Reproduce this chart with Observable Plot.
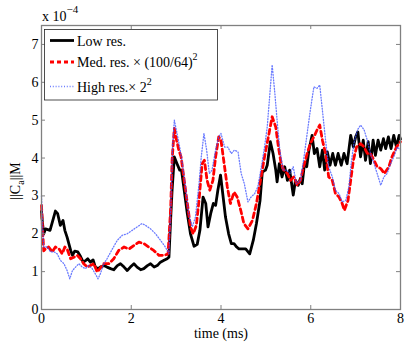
<!DOCTYPE html>
<html><head><meta charset="utf-8">
<script src="https://cdn.jsdelivr.net/npm/d3@7"></script>
<script src="https://cdn.jsdelivr.net/npm/@observablehq/plot@0.6"></script>
<style>
body{margin:0;background:#fff}
svg{display:block}
#chart svg, #chart svg text, #chart svg tspan { font-family: "Liberation Serif", Times, "DejaVu Serif", serif !important; }
</style>
</head><body><div id="chart"></div>
<script>
// [time (ms), value x 1e-4]
const lowRes = [[0,2.6],[0.02,2.3],[0.05,2.0],[0.09,2.13],[0.19,2.09],[0.24,2.3],[0.31,2.6],[0.36,2.53],[0.42,2.22],[0.48,2.35],[0.52,2.09],[0.57,1.91],[0.65,1.56],[0.69,1.43],[0.74,1.54],[0.81,1.52],[0.87,1.4],[0.93,1.25],[0.99,1.3],[1.03,1.34],[1.09,1.25],[1.15,1.31],[1.2,1.12],[1.26,1.08],[1.31,1.12],[1.39,1.16],[1.46,1.12],[1.54,1.08],[1.61,1.05],[1.69,1.16],[1.76,1.21],[1.84,1.12],[1.91,1.03],[1.98,1.12],[2.06,1.21],[2.13,1.12],[2.21,1.05],[2.28,1.08],[2.36,1.16],[2.43,1.21],[2.51,1.12],[2.58,1.16],[2.65,1.25],[2.73,1.3],[2.8,1.34],[2.84,1.38],[2.88,2.44],[2.91,3.15],[2.96,4.03],[3.02,3.85],[3.08,3.68],[3.12,3.68],[3.17,3.24],[3.25,2.53],[3.32,2.0],[3.4,1.67],[3.47,1.72],[3.53,2.09],[3.6,2.97],[3.66,2.8],[3.71,2.18],[3.77,2.53],[3.83,2.8],[3.88,2.75],[3.93,3.15],[3.99,3.55],[4.03,3.15],[4.1,2.44],[4.17,2.0],[4.23,1.74],[4.29,1.74],[4.35,1.65],[4.4,1.6],[4.47,1.6],[4.55,1.6],[4.64,1.47],[4.72,1.83],[4.79,2.27],[4.87,2.88],[4.92,3.63],[4.99,3.68],[5.03,3.81],[5.1,4.43],[5.16,4.12],[5.22,3.68],[5.25,3.37],[5.3,3.85],[5.36,3.5],[5.42,3.77],[5.48,3.41],[5.53,3.68],[5.61,3.02],[5.66,3.41],[5.72,3.28],[5.77,3.46],[5.81,3.32],[5.86,3.85],[5.91,3.77],[5.96,4.21],[6.03,4.6],[6.08,4.12],[6.14,4.25],[6.2,3.77],[6.26,4.21],[6.31,3.68],[6.37,4.16],[6.43,3.81],[6.49,4.12],[6.55,3.81],[6.61,4.12],[6.68,3.81],[6.74,4.12],[6.81,3.85],[6.89,4.6],[6.95,4.29],[7.0,4.56],[7.05,4.69],[7.11,4.03],[7.17,4.47],[7.22,3.94],[7.28,4.43],[7.33,3.85],[7.39,4.47],[7.44,4.07],[7.5,4.47],[7.56,4.21],[7.62,4.51],[7.67,4.25],[7.73,4.56],[7.79,4.25],[7.85,4.6],[7.91,4.29],[7.97,4.6],[8.0,4.5]];
const medRes = [[0,2.75],[0.02,2.2],[0.05,1.55],[0.09,1.6],[0.16,1.65],[0.24,1.52],[0.31,1.65],[0.39,1.6],[0.46,1.47],[0.52,1.65],[0.57,1.6],[0.65,1.34],[0.72,1.38],[0.8,1.43],[0.87,1.34],[0.94,1.21],[1.02,1.12],[1.09,1.16],[1.17,1.21],[1.24,0.99],[1.3,1.08],[1.39,1.21],[1.5,1.21],[1.61,1.34],[1.72,1.56],[1.84,1.65],[1.95,1.6],[2.06,1.69],[2.17,1.78],[2.28,1.74],[2.39,1.65],[2.5,1.56],[2.62,1.43],[2.73,1.43],[2.82,1.47],[2.88,2.7],[2.91,3.94],[2.96,4.78],[3.01,4.47],[3.06,4.21],[3.11,4.03],[3.17,3.5],[3.25,2.8],[3.32,2.18],[3.38,2.0],[3.45,2.22],[3.51,2.88],[3.58,3.85],[3.63,3.94],[3.69,3.41],[3.75,3.15],[3.82,3.41],[3.88,4.03],[3.95,4.56],[4.0,4.47],[4.06,3.94],[4.14,3.24],[4.21,2.8],[4.29,3.1],[4.36,2.97],[4.44,2.62],[4.51,2.27],[4.6,2.13],[4.7,2.35],[4.79,2.8],[4.88,3.41],[4.97,4.03],[5.07,4.65],[5.14,5.09],[5.22,4.82],[5.28,4.29],[5.34,3.85],[5.4,3.68],[5.48,3.59],[5.55,3.41],[5.62,3.5],[5.7,3.28],[5.77,3.41],[5.85,3.81],[5.92,4.12],[5.99,4.38],[6.07,4.56],[6.14,4.74],[6.2,4.87],[6.26,4.47],[6.33,4.12],[6.4,3.5],[6.48,3.41],[6.55,3.06],[6.63,2.97],[6.7,2.8],[6.75,2.62],[6.83,2.88],[6.89,3.41],[6.95,3.94],[7.02,4.29],[7.11,4.38],[7.19,4.29],[7.26,4.12],[7.33,4.12],[7.41,3.94],[7.48,3.77],[7.56,3.72],[7.64,3.59],[7.74,3.77],[7.81,4.03],[7.91,4.29],[8.0,4.43]];
const highRes = [[0,3.0],[0.02,2.3],[0.05,1.65],[0.13,1.65],[0.2,1.52],[0.28,1.52],[0.35,1.47],[0.42,1.3],[0.5,1.21],[0.57,1.03],[0.63,0.81],[0.69,1.03],[0.76,1.12],[0.83,1.21],[0.91,1.12],[0.98,1.08],[1.05,1.16],[1.13,1.08],[1.2,0.94],[1.26,0.81],[1.31,0.94],[1.39,1.21],[1.46,1.34],[1.58,1.6],[1.69,1.83],[1.8,1.96],[1.91,2.0],[2.02,2.09],[2.13,2.18],[2.24,2.27],[2.32,2.22],[2.43,2.13],[2.54,2.0],[2.65,1.83],[2.76,1.65],[2.84,1.47],[2.88,2.7],[2.92,4.29],[2.96,5.0],[3.02,4.65],[3.08,4.29],[3.13,3.94],[3.21,3.24],[3.28,2.53],[3.36,2.18],[3.43,2.44],[3.51,3.32],[3.56,4.03],[3.62,4.65],[3.68,4.21],[3.74,3.59],[3.8,3.68],[3.88,4.21],[3.95,4.56],[4.0,4.65],[4.08,4.29],[4.15,4.29],[4.23,4.12],[4.3,4.21],[4.38,4.16],[4.45,3.59],[4.52,3.32],[4.6,2.84],[4.67,2.97],[4.75,3.06],[4.82,3.24],[4.9,3.77],[4.97,4.29],[5.03,4.82],[5.09,5.71],[5.14,6.46],[5.2,5.71],[5.25,5.0],[5.31,4.21],[5.39,3.68],[5.46,3.68],[5.54,3.59],[5.61,3.77],[5.68,3.32],[5.77,3.41],[5.85,4.03],[5.92,4.65],[5.99,5.26],[6.07,5.88],[6.14,5.84],[6.2,5.93],[6.26,5.26],[6.33,4.47],[6.4,3.77],[6.48,3.5],[6.55,3.15],[6.63,3.06],[6.7,2.84],[6.78,2.88],[6.85,3.24],[6.9,3.85],[6.96,4.38],[7.04,4.74],[7.11,4.87],[7.19,4.74],[7.26,4.47],[7.33,4.12],[7.41,3.85],[7.48,3.59],[7.56,3.28],[7.63,3.5],[7.7,3.59],[7.78,3.85],[7.85,4.03],[7.93,4.29],[8.0,4.21]];
const xTicks = [0, 2, 4, 6, 8];
const yTicks = [0, 1, 2, 3, 4, 5, 6, 7];
const seriesNames = ["Low res.", "Med. res. \u00d7 (100/64)", "High res.\u00d7 2"];
const xLabel = "time (ms)";

const W = 407, H = 346, mL = 41, mR = 7, mT = 25, mB = 37;
const innerW = W - mL - mR, innerH = H - mT - mB, tl = 4;
const ff = "'Liberation Serif', Times, 'DejaVu Serif', serif";
const grey = "#808080";
const toObj = arr => arr.map(([t, v]) => ({t, v}));

const chart = Plot.plot({
  width: W, height: H,
  marginLeft: mL, marginRight: mR, marginTop: mT, marginBottom: mB,
  style: {fontFamily: ff, fontSize: "14px", background: "#fff", color: "#000"},
  x: {domain: [0, 8]},
  y: {domain: [0, 7.5]},
  marks: [
    Plot.line(toObj(lowRes), {x: "t", y: "v", stroke: "#000", strokeWidth: 2.8}),
    Plot.line(toObj(medRes), {x: "t", y: "v", stroke: "#ff0000", strokeWidth: 2.8, strokeDasharray: "5,3.5"}),
    Plot.line(toObj(highRes), {x: "t", y: "v", stroke: "#3a50ff", strokeOpacity: 0.75, strokeWidth: 1.3, strokeDasharray: "1,1.8"}),
    Plot.frame({stroke: grey, strokeWidth: 1.3}),
    Plot.ruleX(xTicks, {stroke: grey, insetTop: innerH - tl}),
    Plot.ruleX(xTicks, {stroke: grey, insetBottom: innerH - tl}),
    Plot.ruleY(yTicks, {stroke: grey, insetRight: innerW - tl}),
    Plot.ruleY(yTicks, {stroke: grey, insetLeft: innerW - tl}),
    Plot.axisX({ticks: xTicks, tickSize: 0, tickPadding: 4, label: null, fontSize: 14}),
    Plot.axisY({ticks: yTicks, tickSize: 0, tickPadding: 3, label: null, fontSize: 14}),
    Plot.text([xLabel], {text: d => d, frameAnchor: "bottom", dy: 28, fontSize: 14})
  ]
});
document.getElementById("chart").append(chart);

const svg = d3.select(chart);
// exponent
const ex = svg.append("text").attr("x", 42).attr("y", 21).attr("text-anchor", "start").attr("font-family", ff).attr("font-size", 14).attr("fill", "#000");
ex.append("tspan").text("x 10");
ex.append("tspan").attr("dy", -8).attr("font-size", 11).text("\u22124");
// y label
const yl = svg.append("text").attr("transform", "translate(20,181) rotate(-90)").attr("text-anchor", "middle")
  .attr("font-family", ff).attr("font-size", 14).attr("fill", "#000");
yl.append("tspan").text("||C");
yl.append("tspan").attr("dy", 4).attr("font-size", 10).text("a");
yl.append("tspan").attr("dy", -4).text("||M");
// legend
const lg = svg.append("g");
lg.append("rect").attr("x", 44.5).attr("y", 29.5).attr("width", 173).attr("height", 70.5).attr("fill", "#fff").attr("stroke", "#222").attr("stroke-width", 0.8);
const rows = [
  {y: 40.5, stroke: "#000", w: 2.8, dash: null, op: 1, sup: null},
  {y: 62, stroke: "#ff0000", w: 2.8, dash: "4,3", op: 1, sup: "2"},
  {y: 86.5, stroke: "#3a50ff", w: 1.3, dash: "1,1.8", op: 0.75, sup: "2"}
];
rows.forEach((r, i) => {
  lg.append("line").attr("x1", 50).attr("x2", 74).attr("y1", r.y).attr("y2", r.y)
    .attr("stroke", r.stroke).attr("stroke-width", r.w).attr("stroke-dasharray", r.dash).attr("stroke-opacity", r.op);
  const t = lg.append("text").attr("x", 77).attr("y", r.y + 5).attr("text-anchor", "start").attr("font-family", ff).attr("font-size", 14).attr("fill", "#000");
  t.append("tspan").text(seriesNames[i]);
  if (r.sup) t.append("tspan").attr("dy", -7).attr("font-size", 10).text(r.sup);
});
</script>
</body></html>
